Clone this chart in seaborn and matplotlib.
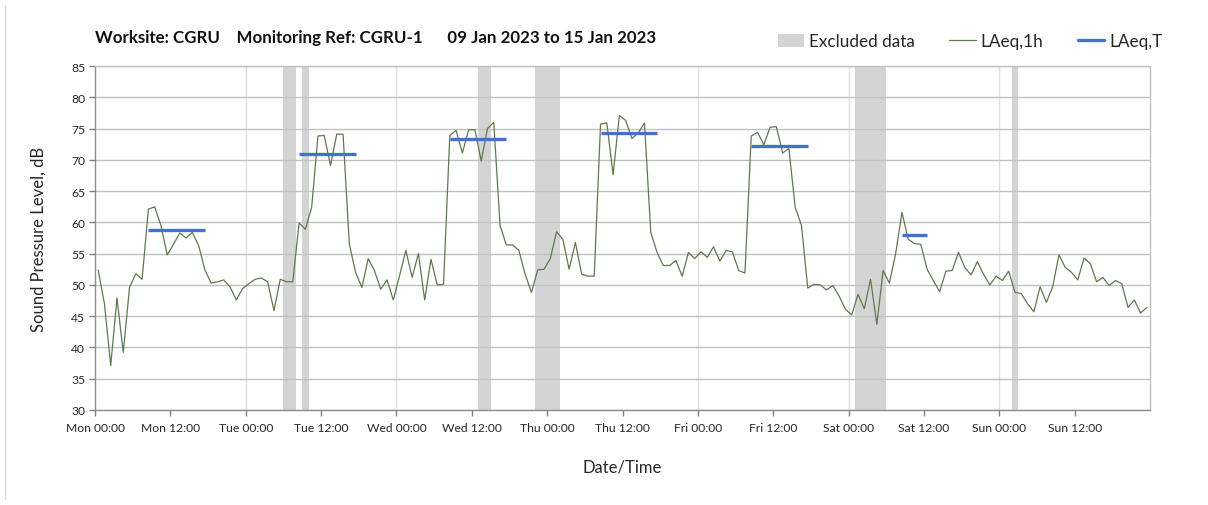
import numpy as np
import pandas as pd
import matplotlib
matplotlib.use("Agg")
import matplotlib.pyplot as plt
from matplotlib.patches import Patch
from matplotlib.lines import Line2D
import seaborn as sns

# Hourly LAeq,1h values (dB), Monday 00:00 through Sunday 23:00
laeq_1h = [
    52.4, 47.0, 37.1, 47.9, 39.2, 49.6, 51.8, 50.9, 62.1, 62.5, 59.5, 54.8,
    56.5, 58.3, 57.5, 58.4, 56.3, 52.4, 50.3, 50.5, 50.8, 49.7, 47.6, 49.4,
    50.2, 50.9, 51.1, 50.5, 45.9, 50.9, 50.5, 50.5, 59.9, 58.9, 62.4, 73.8,
    73.9, 69.1, 74.1, 74.1, 56.5, 52.0, 49.6, 54.2, 52.3, 49.3, 50.8, 47.6,
    51.5, 55.5, 51.2, 55.0, 47.6, 54.1, 50.0, 50.1, 73.9, 74.7, 71.1, 74.8,
    74.8, 69.8, 75.0, 76.0, 59.5, 56.4, 56.4, 55.5, 51.7, 48.8, 52.4, 52.5,
    54.2, 58.5, 57.3, 52.5, 56.8, 51.7, 51.4, 51.4, 75.7, 75.9, 67.6, 77.1,
    76.3, 73.4, 74.3, 75.9, 58.4, 55.2, 53.1, 53.1, 53.9, 51.4, 55.2, 54.2,
    55.3, 54.4, 56.1, 53.8, 55.5, 55.3, 52.3, 51.9, 73.8, 74.4, 72.4, 75.2,
    75.3, 71.1, 71.8, 62.4, 59.5, 49.5, 50.1, 50.0, 49.2, 49.9, 48.2, 46.1,
    45.2, 48.5, 46.2, 50.9, 43.7, 52.3, 50.3, 55.0, 61.6, 57.3, 56.6, 56.5,
    52.5, 50.7, 48.9, 52.2, 52.3, 55.2, 52.8, 51.6, 53.7, 51.7, 50.0, 51.4,
    50.7, 52.2, 48.8, 48.6, 47.0, 45.7, 49.7, 47.2, 49.7, 54.8, 52.8, 52.0,
    50.8, 54.3, 53.4, 50.5, 51.2, 49.9, 50.7, 50.2, 46.4, 47.6, 45.5, 46.4,
]

# Working-period averages LAeq,T (start hour, end hour, level)
period_start = [8, 32, 56, 80, 104, 128]
period_end = [18, 42, 66, 90, 114, 133]
laeq_t = [58.7, 70.9, 73.3, 74.3, 72.2, 57.9]

# Excluded data windows (hours from Monday 00:00)
excl_start = [30, 33, 61, 70, 121, 146]
excl_end = [32, 34, 63, 74, 126, 147]

tick_labels = ["Mon 00:00", "Mon 12:00", "Tue 00:00", "Tue 12:00",
               "Wed 00:00", "Wed 12:00", "Thu 00:00", "Thu 12:00",
               "Fri 00:00", "Fri 12:00", "Sat 00:00", "Sat 12:00",
               "Sun 00:00", "Sun 12:00"]

GREEN = "#5e7a4a"
BLUE = "#4472c4"
BAND = "#d4d4d4"
TEXT = "#262626"

sns.set_theme(style="white")
plt.rcParams["font.family"] = ["Lato", "DejaVu Sans"]

df = pd.DataFrame({"hour": np.arange(len(laeq_1h)) + 0.5, "laeq": laeq_1h})

fig = plt.figure(figsize=(12.08, 5.06), dpi=100)
ax = fig.add_axes([95 / 1208, 1 - 411 / 506, 1055 / 1208, 344 / 506])

for s, e in zip(excl_start, excl_end):
    ax.axvspan(s, e, color=BAND, lw=0, zorder=1)

# grid
for y in range(30, 86, 5):
    ax.axhline(y, color="#c0c0c0", lw=1.0, zorder=1.5)
for x in range(24, 168, 24):
    ax.axvline(x, color="#e0e0e0", lw=1.0, zorder=0.5)

sns.lineplot(data=df, x="hour", y="laeq", ax=ax, color=GREEN, lw=0.9,
             zorder=3, legend=False)

for s, e, v in zip(period_start, period_end, laeq_t):
    ax.plot([s + 0.5, e - 0.5], [v, v], color=BLUE, lw=2.4,
            solid_capstyle="butt", zorder=4)

ax.set_xlim(0, 168)
ax.set_ylim(30, 85)
ax.set_xticks(np.arange(0, 168, 12))
ax.set_xticklabels(tick_labels)
ax.set_yticks(np.arange(30, 86, 5))
ax.tick_params(axis="both", labelsize=8.7, colors="#808080", labelcolor=TEXT)
ax.tick_params(axis="x", length=4, width=1, direction="out", pad=5)
ax.tick_params(axis="y", length=4, width=1, direction="out", pad=3)
ax.xaxis.set_ticks_position("bottom")
ax.yaxis.set_ticks_position("left")

for side in ["top", "right"]:
    ax.spines[side].set_color("#c0c0c0")
    ax.spines[side].set_linewidth(1.0)
for side in ["left", "bottom"]:
    ax.spines[side].set_color("#8c8c8c")
    ax.spines[side].set_linewidth(1.0)

ax.set_xlabel("Date/Time", fontsize=12, color=TEXT, labelpad=18)
ax.set_ylabel("Sound Pressure Level, dB", fontsize=12, color=TEXT, labelpad=18)

fig.text(95 / 1208, 1 - 38 / 506,
         "Worksite: CGRU    Monitoring Ref: CGRU-1      09 Jan 2023 to 15 Jan 2023",
         fontsize=12.2, fontweight="bold", color="#111111", ha="left", va="center")

handles = [
    Patch(facecolor=BAND, edgecolor="none", label="Excluded data"),
    Line2D([], [], color=GREEN, lw=0.9, label="LAeq,1h"),
    Line2D([], [], color=BLUE, lw=2.4, label="LAeq,T"),
]
fig.legend(handles=handles, loc="center right",
           bbox_to_anchor=(1178 / 1208, 1 - 42 / 506), ncol=3, frameon=False,
           fontsize=12.3, handlelength=1.55, handleheight=0.8,
           handletextpad=0.3, columnspacing=2.0, labelcolor=TEXT)

# chart-area border on the left
fig.add_artist(Line2D([5 / 1208, 5 / 1208], [6 / 506, 1 - 6 / 506],
                      color="#d9d9d9", lw=1, transform=fig.transFigure))

fig.savefig("out.png", dpi=100, facecolor="white")
